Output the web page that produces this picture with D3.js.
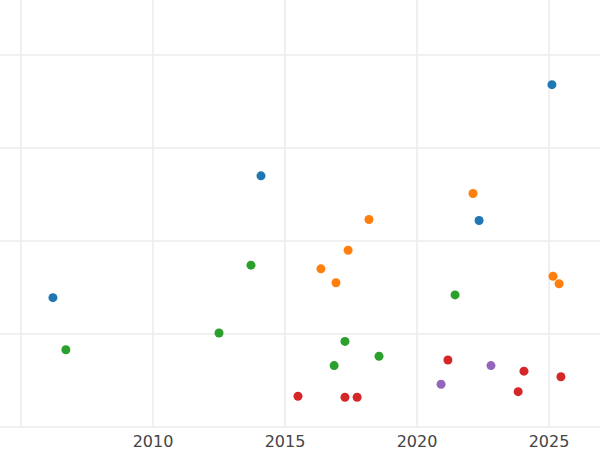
<!DOCTYPE html>
<html>
<head>
<meta charset="utf-8">
<script src="https://cdn.jsdelivr.net/npm/d3@7"></script>
<style>
  body { margin: 0; background: #fff; }
  text { font-family: "DejaVu Sans", sans-serif; }
</style>
</head>
<body>
<svg id="chart" width="600" height="450"></svg>
<script>
// groups and their colours
var groups = ["blue", "orange", "green", "red", "purple"];
var colors = ["#1f77b4", "#ff7f0e", "#2ca02c", "#d62728", "#9467bd"];

// years and values per group
var blueX = [2025.11, 2014.09, 2022.35, 2006.21];
var blueY = [3.68, 2.70, 2.22, 1.39];
var orangeX = [2022.12, 2018.18, 2017.39, 2016.36, 2016.93, 2025.15, 2025.38];
var orangeY = [2.51, 2.23, 1.90, 1.70, 1.55, 1.62, 1.54];
var greenX = [2013.71, 2021.44, 2012.5, 2006.7, 2017.27, 2018.56, 2016.86];
var greenY = [1.74, 1.42, 1.01, 0.83, 0.92, 0.76, 0.66];
var redX = [2021.17, 2024.05, 2025.45, 2023.83, 2015.49, 2017.27, 2017.73];
var redY = [0.72, 0.60, 0.54, 0.38, 0.33, 0.32, 0.32];
var purpleX = [2022.8, 2020.91];
var purpleY = [0.66, 0.46];

var xTicks = [2010, 2015, 2020, 2025];
var xGrid = [2005, 2010, 2015, 2020, 2025];
var yGrid = [0, 1, 2, 3, 4];

var series = [
  [blueX, blueY], [orangeX, orangeY], [greenX, greenY], [redX, redY], [purpleX, purpleY]
];

var svg = d3.select("#chart");
var x = d3.scaleLinear().domain([2005, 2026.93]).range([21, 600]);
var y = d3.scaleLinear().domain([0, 4.59]).range([427, 0]);

svg.selectAll(".vg").data(xGrid).enter().append("line")
  .attr("x1", d => x(d)).attr("x2", d => x(d))
  .attr("y1", 0).attr("y2", 427)
  .attr("stroke", "#ebebeb").attr("stroke-width", 1.5);

svg.selectAll(".hg").data(yGrid).enter().append("line")
  .attr("x1", 0).attr("x2", 600)
  .attr("y1", d => y(d)).attr("y2", d => y(d))
  .attr("stroke", "#ebebeb").attr("stroke-width", 1.5);

svg.selectAll(".xt").data(xTicks).enter().append("text")
  .attr("x", d => x(d)).attr("y", 447)
  .attr("text-anchor", "middle")
  .attr("font-size", 16).attr("fill", "#444")
  .text(d => d);

series.forEach(function(s, i) {
  var pts = s[0].map((v, j) => [v, s[1][j]]);
  svg.selectAll(".p" + i).data(pts).enter().append("circle")
    .attr("cx", d => x(d[0])).attr("cy", d => y(d[1]))
    .attr("r", 4.5).attr("fill", colors[i]);
});
</script>
</body>
</html>
